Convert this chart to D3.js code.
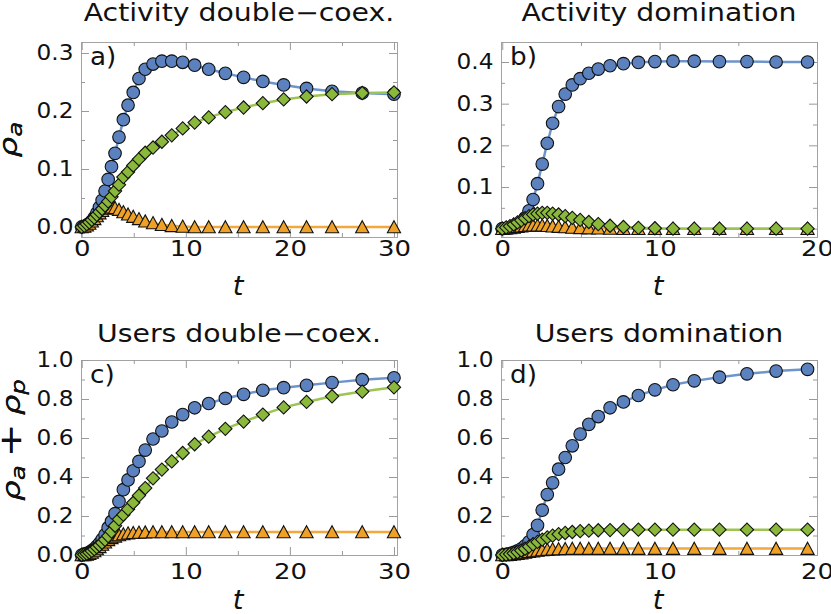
<!DOCTYPE html>
<meta charset="utf-8">
<script src="https://d3js.org/d3.v7.min.js"></script>
<style>
body { margin: 0; background: #fff; }
svg text { font-family: "DejaVu Sans", sans-serif; fill: #111; }
</style>
<div id="chart"></div>
<script>

var timeLong = [0, 0.25, 0.49, 0.73, 0.97, 1.21, 1.45, 1.7, 1.96, 2.24, 2.54, 2.86, 3.2, 3.58, 4.0, 4.45, 4.95, 5.5, 6.1, 6.85, 7.7, 8.65, 9.7, 10.85, 12.2, 13.8, 15.55, 17.4, 19.4, 21.6, 24.05, 26.95, 30];
var timeShort = [0, 0.25, 0.49, 0.73, 0.97, 1.21, 1.45, 1.7, 1.96, 2.24, 2.54, 2.86, 3.2, 3.58, 4.0, 4.45, 4.95, 5.5, 6.1, 6.85, 7.7, 8.65, 9.7, 10.85, 12.2, 13.8, 15.55, 17.4, 19.4];

// a) activity, double coexistence
var actCoexBlue = [0, 0.001, 0.003, 0.006, 0.010, 0.016, 0.024, 0.034, 0.046, 0.062, 0.082, 0.104, 0.127, 0.155, 0.185, 0.210, 0.232, 0.256, 0.272, 0.281, 0.286, 0.286, 0.284, 0.279, 0.272, 0.265, 0.258, 0.251, 0.245, 0.239, 0.234, 0.231, 0.229];
var actCoexGreen = [0, 0.002, 0.005, 0.008, 0.012, 0.016, 0.021, 0.026, 0.031, 0.037, 0.044, 0.052, 0.062, 0.073, 0.086, 0.095, 0.106, 0.117, 0.128, 0.137, 0.147, 0.158, 0.170, 0.180, 0.189, 0.198, 0.206, 0.2135, 0.220, 0.225, 0.229, 0.231, 0.232];
var actCoexOrange = [0, 0.001, 0.003, 0.006, 0.010, 0.014, 0.019, 0.024, 0.028, 0.032, 0.034, 0.034, 0.033, 0.030, 0.026, 0.022, 0.018, 0.014, 0.010, 0.007, 0.004, 0.002, 0.001, 0, 0, 0, 0, 0, 0, 0, 0, 0, 0];

// b) activity, domination
var actDomBlue = [0, 0.001, 0.002, 0.004, 0.008, 0.015, 0.026, 0.043, 0.070, 0.108, 0.155, 0.205, 0.253, 0.293, 0.323, 0.345, 0.360, 0.373, 0.383, 0.391, 0.396, 0.399, 0.401, 0.402, 0.402, 0.401, 0.401, 0.400, 0.400];
var actDomGreen = [0, 0.003, 0.006, 0.010, 0.015, 0.020, 0.025, 0.030, 0.034, 0.036, 0.038, 0.038, 0.036, 0.034, 0.030, 0.026, 0.021, 0.016, 0.011, 0.007, 0.004, 0.002, 0.001, 0, 0, 0, 0, 0, 0];
var actDomOrange = [0, 0.001, 0.002, 0.003, 0.005, 0.006, 0.007, 0.008, 0.008, 0.008, 0.008, 0.007, 0.006, 0.005, 0.004, 0.003, 0.002, 0.0015, 0.001, 0.0005, 0, 0, 0, 0, 0, 0, 0, 0, 0];

// c) users, double coexistence
var usrCoexBlue = [0, 0.004, 0.008, 0.014, 0.022, 0.032, 0.045, 0.060, 0.080, 0.104, 0.140, 0.172, 0.212, 0.275, 0.335, 0.385, 0.432, 0.480, 0.538, 0.595, 0.636, 0.682, 0.720, 0.755, 0.777, 0.803, 0.824, 0.845, 0.858, 0.870, 0.884, 0.899, 0.909];
var usrCoexGreen = [0, 0.003, 0.007, 0.013, 0.021, 0.030, 0.040, 0.050, 0.063, 0.078, 0.097, 0.120, 0.150, 0.183, 0.207, 0.235, 0.268, 0.305, 0.343, 0.393, 0.438, 0.480, 0.523, 0.568, 0.607, 0.647, 0.684, 0.720, 0.757, 0.785, 0.814, 0.838, 0.860];
var usrCoexOrange = [0, 0.001, 0.003, 0.007, 0.013, 0.021, 0.031, 0.042, 0.054, 0.066, 0.078, 0.088, 0.096, 0.103, 0.108, 0.112, 0.114, 0.116, 0.117, 0.118, 0.118, 0.118, 0.118, 0.118, 0.118, 0.118, 0.118, 0.118, 0.118, 0.118, 0.118, 0.118, 0.118];

// d) users, domination
var usrDomBlue = [0, 0.003, 0.007, 0.013, 0.021, 0.032, 0.047, 0.068, 0.105, 0.152, 0.230, 0.310, 0.370, 0.440, 0.500, 0.560, 0.620, 0.670, 0.710, 0.755, 0.785, 0.818, 0.847, 0.873, 0.893, 0.912, 0.929, 0.943, 0.952];
var usrDomGreen = [0, 0.002, 0.005, 0.009, 0.015, 0.023, 0.032, 0.043, 0.055, 0.067, 0.079, 0.090, 0.099, 0.107, 0.113, 0.118, 0.122, 0.125, 0.127, 0.128, 0.129, 0.130, 0.130, 0.130, 0.130, 0.130, 0.130, 0.130, 0.130];
var usrDomOrange = [0, 0.001, 0.002, 0.004, 0.007, 0.010, 0.013, 0.017, 0.020, 0.023, 0.026, 0.028, 0.030, 0.031, 0.032, 0.033, 0.033, 0.033, 0.033, 0.033, 0.033, 0.033, 0.033, 0.033, 0.033, 0.033, 0.033, 0.033, 0.033];

// tick values
var xTicksLong = [0, 10, 20, 30], xMinorLong = [5, 15, 25];
var xTicksShort = [0, 10, 20], xMinorShort = [5, 15];
var yTicksA = [0, 0.1, 0.2, 0.3], yMinorA = [0.05, 0.15, 0.25];
var yTicksB = [0, 0.1, 0.2, 0.3, 0.4], yMinorB = [0.05, 0.15, 0.25, 0.35];
var yTicksUsers = [0, 0.2, 0.4, 0.6, 0.8, 1.0], yMinorUsers = [0.1, 0.3, 0.5, 0.7, 0.9];

var W = 831, H = 614;
var pw = 316, ph = 195;

var panels = [
  {title: "Activity double\u2212coex.", letter: "a)", left: 81, top: 42, row: 0,
   time: timeLong, series: [actCoexBlue, actCoexOrange, actCoexGreen],
   xDomain: [-0.07, 30.29], yDomain: [-0.0173, 0.319],
   xTicks: xTicksLong, xMinor: xMinorLong, yTicks: yTicksA, yMinor: yMinorA, users: false},
  {title: "Activity domination", letter: "b)", left: 501, top: 42, row: 0,
   time: timeShort, series: [actDomBlue, actDomOrange, actDomGreen],
   xDomain: [-0.08, 20.0], yDomain: [-0.02, 0.448],
   xTicks: xTicksShort, xMinor: xMinorShort, yTicks: yTicksB, yMinor: yMinorB, users: false},
  {title: "Users double\u2212coex.", letter: "c)", left: 81, top: 360, row: 1,
   time: timeLong, series: [usrCoexBlue, usrCoexOrange, usrCoexGreen],
   xDomain: [-0.07, 30.29], yDomain: [0, 1],
   xTicks: xTicksLong, xMinor: xMinorLong, yTicks: yTicksUsers, yMinor: yMinorUsers, users: true},
  {title: "Users domination", letter: "d)", left: 501, top: 360, row: 1,
   time: timeShort, series: [usrDomBlue, usrDomOrange, usrDomGreen],
   xDomain: [-0.08, 20.0], yDomain: [0, 1],
   xTicks: xTicksShort, xMinor: xMinorShort, yTicks: yTicksUsers, yMinor: yMinorUsers, users: true}
];

// blue circles, orange triangles, green diamonds (drawn in that order)
var fills = ["#5b82bf", "#eea126", "#8ab83a"];
var lineColors = ["#6e95cb", "#f2a83a", "#9cc452"];
var shapes = [
  d3.symbol().type(d3.symbolCircle).size(Math.PI * 6.3 * 6.3)(),
  "M0,-6.3L6.6,5.8L-6.6,5.8Z",
  d3.symbol().type(d3.symbolSquare).size(88)()
];
var rotations = [0, 0, 45];

var svg = d3.select("#chart")
  .append("svg")
    .attr("width", W)
    .attr("height", H);

// the reference type runs wider than DejaVu Sans, so stretch along the text direction
function wideText(sel, x, y, sx, rot) {
  return sel.append("text")
    .attr("transform", "translate(" + x + "," + y + ")" + (rot ? " rotate(" + rot + ")" : "") + " scale(" + sx + ",1)");
}

panels.forEach(function(p) {
  var x = d3.scaleLinear().domain(p.xDomain).range([p.left, p.left + pw]);
  var y = d3.scaleLinear().domain(p.yDomain).range([p.top + ph, p.top]);
  var g = svg.append("g");

  // frame
  g.append("rect")
    .attr("x", p.left + 0.5).attr("y", p.top + 0.5)
    .attr("width", pw).attr("height", ph)
    .attr("fill", "none").attr("stroke", "#a3a3a3").attr("stroke-width", 1);

  var yFmt = d3.format(".1f");
  var xPad = p.row === 0 ? 3 : 8;

  // major ticks with labels, minor ticks without, all pointing inside
  function addAxis(axis, tx, ty, labels, size, sx) {
    var a = g.append("g")
      .attr("transform", "translate(" + tx + "," + ty + ")")
      .call(axis);
    a.select(".domain").remove();
    a.selectAll(".tick line").attr("stroke", "#9a9a9a");
    if (labels) {
      a.selectAll("text")
        .attr("font-size", size)
        .attr("fill", "#111")
        .attr("transform", function() {
          var t = d3.select(this);
          var tx0 = +t.attr("x") || 0, ty0 = +t.attr("y") || 0;
          return "translate(" + tx0 + "," + ty0 + ") scale(" + sx + ",1) translate(" + (-tx0) + "," + (-ty0) + ")";
        });
    } else {
      a.selectAll("text").remove();
    }
  }

  addAxis(d3.axisBottom(x).tickValues(p.xTicks).tickSize(-8).tickPadding(xPad).tickFormat(d3.format("d")), 0, p.top + ph, true, 22, 1.18);
  addAxis(d3.axisBottom(x).tickValues(p.xMinor).tickSize(-4), 0, p.top + ph, false);
  addAxis(d3.axisTop(x).tickValues(p.xTicks).tickSize(-8), 0, p.top, false);
  addAxis(d3.axisTop(x).tickValues(p.xMinor).tickSize(-4), 0, p.top, false);
  addAxis(d3.axisLeft(y).tickValues(p.yTicks).tickSize(-8).tickPadding(7.5).tickFormat(yFmt), p.left, 0, true, 21.5, 1.08);
  addAxis(d3.axisLeft(y).tickValues(p.yMinor).tickSize(-4), p.left, 0, false);
  addAxis(d3.axisRight(y).tickValues(p.yTicks).tickSize(-8), p.left + pw, 0, false);
  addAxis(d3.axisRight(y).tickValues(p.yMinor).tickSize(-4), p.left + pw, 0, false);

  // series: line first, then its markers
  p.series.forEach(function(vals, k) {
    var pts = p.time.map(function(t, i) { return [t, vals[i]]; });
    g.append("path")
      .datum(pts)
      .attr("fill", "none")
      .attr("stroke", lineColors[k])
      .attr("stroke-width", 2.5)
      .attr("d", d3.line()
        .x(function(d) { return x(d[0]); })
        .y(function(d) { return y(d[1]); }));

    g.selectAll(null)
      .data(pts)
      .enter()
      .append("path")
        .attr("d", shapes[k])
        .attr("transform", function(d) {
          return "translate(" + x(d[0]) + "," + y(d[1]) + ") rotate(" + rotations[k] + ")";
        })
        .attr("fill", fills[k])
        .attr("stroke", "#111")
        .attr("stroke-width", 1.1);
  });

  // panel letter
  wideText(g, p.left + 9, p.top + 23, 1.05)
    .attr("font-size", 25)
    .text(p.letter);

  // title
  wideText(g, p.left + pw / 2, p.row === 0 ? 21 : 342, 1.18)
    .attr("text-anchor", "middle")
    .attr("font-size", 24)
    .text(p.title);

  // x label
  wideText(g, p.left + pw / 2 - 1, p.row === 0 ? 295 : 609, 1.05)
    .attr("text-anchor", "middle")
    .attr("font-size", 26)
    .attr("font-style", "italic")
    .text("t");

  // y label
  var yl = wideText(g, p.row === 0 ? 17 : 20, p.row === 0 ? p.top + ph / 2 : 440, 1.3, -90)
    .attr("text-anchor", "middle")
    .attr("font-size", 25);
  yl.append("tspan").attr("font-style", "italic").text("\u03c1");
  yl.append("tspan").attr("font-style", "italic").attr("font-size", 19).attr("dy", 5).text("a");
  if (p.users) {
    yl.append("tspan").attr("dy", -4).attr("font-size", 31).text("\u2009+\u2009");
    yl.append("tspan").attr("font-style", "italic").attr("dy", -1).text("\u03c1");
    yl.append("tspan").attr("font-style", "italic").attr("font-size", 19).attr("dy", 5).text("p");
  }
});

</script>
